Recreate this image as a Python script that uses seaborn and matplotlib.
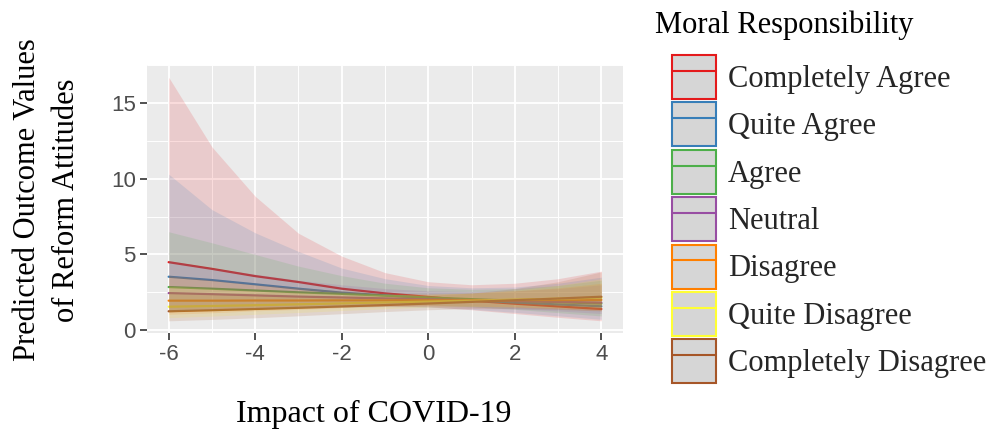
import numpy as np
import pandas as pd
import matplotlib
matplotlib.use("Agg")
import matplotlib.pyplot as plt
import seaborn as sns
from matplotlib.patches import Patch
from matplotlib.lines import Line2D
from matplotlib.ticker import MultipleLocator

# ---------------- data ----------------
groups = ["Completely Agree", "Quite Agree", "Agree", "Neutral",
          "Disagree", "Quite Disagree", "Completely Disagree"]
x_vals = [-6, -5, -4, -3, -2, -1, 0, 1, 2, 3, 4]

ca_fit = [4.49, 4.05, 3.57, 3.18, 2.74, 2.43, 2.20, 1.95, 1.75, 1.57, 1.40]
ca_hi = [16.7, 12.1, 8.84, 6.40, 4.89, 3.80, 3.20, 3.00, 3.10, 3.40, 3.90]
ca_lo = [1.21, 1.35, 1.45, 1.55, 1.60, 1.60, 1.55, 1.35, 1.10, 0.85, 0.62]

qa_fit = [3.53, 3.31, 3.03, 2.74, 2.48, 2.30, 2.12, 1.97, 1.83, 1.70, 1.58]
qa_hi = [10.3, 7.96, 6.43, 5.20, 4.10, 3.40, 2.95, 2.80, 2.85, 3.10, 3.50]
qa_lo = [1.21, 1.38, 1.43, 1.45, 1.50, 1.55, 1.52, 1.38, 1.18, 0.95, 0.72]

a_fit = [2.85, 2.74, 2.62, 2.50, 2.40, 2.28, 2.16, 2.05, 1.95, 1.85, 1.76]
a_hi = [6.50, 5.77, 5.00, 4.23, 3.60, 3.10, 2.80, 2.70, 2.75, 2.95, 3.30]
a_lo = [1.25, 1.30, 1.37, 1.48, 1.60, 1.68, 1.67, 1.55, 1.38, 1.16, 0.94]

n_fit = [2.45, 2.38, 2.30, 2.22, 2.16, 2.10, 2.04, 1.98, 1.92, 1.87, 1.82]
n_hi = [4.60, 4.10, 3.70, 3.30, 3.00, 2.75, 2.60, 2.55, 2.60, 2.75, 3.00]
n_lo = [1.30, 1.38, 1.43, 1.50, 1.55, 1.60, 1.60, 1.53, 1.42, 1.27, 1.10]

d_fit = [1.95, 1.95, 1.96, 1.96, 1.97, 1.97, 1.98, 1.98, 1.99, 1.99, 2.00]
d_hi = [3.60, 3.30, 3.00, 2.80, 2.60, 2.45, 2.40, 2.45, 2.60, 2.80, 3.10]
d_lo = [1.05, 1.15, 1.28, 1.37, 1.49, 1.58, 1.63, 1.60, 1.52, 1.42, 1.29]

qd_fit = [1.55, 1.60, 1.65, 1.71, 1.77, 1.83, 1.89, 1.95, 2.02, 2.08, 2.15]
qd_hi = [2.90, 2.75, 2.60, 2.50, 2.40, 2.35, 2.35, 2.45, 2.65, 2.95, 3.40]
qd_lo = [0.83, 0.93, 1.05, 1.17, 1.30, 1.42, 1.52, 1.55, 1.54, 1.47, 1.36]

cd_fit = [1.25, 1.32, 1.40, 1.48, 1.57, 1.66, 1.76, 1.87, 1.98, 2.09, 2.21]
cd_hi = [2.55, 2.45, 2.38, 2.30, 2.26, 2.25, 2.30, 2.45, 2.75, 3.20, 3.85]
cd_lo = [0.62, 0.71, 0.82, 0.95, 1.09, 1.23, 1.35, 1.43, 1.42, 1.37, 1.27]

fits = [ca_fit, qa_fit, a_fit, n_fit, d_fit, qd_fit, cd_fit]
his = [ca_hi, qa_hi, a_hi, n_hi, d_hi, qd_hi, cd_hi]
los = [ca_lo, qa_lo, a_lo, n_lo, d_lo, qd_lo, cd_lo]

x_ticks = [-6, -4, -2, 0, 2, 4]
y_ticks = [0, 5, 10, 15]

# ---------------- build long table ----------------
rows = []
for g, f, lo, hi in zip(groups, fits, los, his):
    for xv, fv, lv, hv in zip(x_vals, f, lo, hi):
        rows.append({"x": xv, "fit": fv, "lo": lv, "hi": hv, "group": g})
df = pd.DataFrame(rows)

colors = sns.color_palette("Set1", 7)

sns.set_theme(style="darkgrid")
plt.rcParams["font.family"] = ["Liberation Serif", "DejaVu Serif"]
plt.rcParams["axes.unicode_minus"] = False

W, H = 992, 430
fig = plt.figure(figsize=(W / 100, H / 100), dpi=100)
fig.patch.set_facecolor("white")
pl, pr, pt, pb = 147, 623, 65, 333
ax = fig.add_axes([pl / W, (H - pb) / H, (pr - pl) / W, (pb - pt) / H])
ax.set_facecolor("#EBEBEB")

sns.lineplot(data=df, x="x", y="fit", hue="group", hue_order=groups,
             palette=colors, ax=ax, legend=False, linewidth=1.6,
             estimator=None, zorder=2)
for g, c in zip(groups, colors):
    sub = df[df["group"] == g]
    ax.fill_between(sub["x"], sub["lo"], sub["hi"], color=c, alpha=0.15,
                    linewidth=0, zorder=3)

# ggplot-like expansion
xr = max(x_vals) - min(x_vals)
ax.set_xlim(min(x_vals) - 0.05 * xr, max(x_vals) + 0.05 * xr)
ymin, ymax = df["lo"].min(), df["hi"].max()
yr = ymax - ymin
ax.set_ylim(ymin - 0.05 * yr, ymax + 0.05 * yr)

ax.set_xticks(x_ticks)
ax.set_yticks(y_ticks)
ax.xaxis.set_minor_locator(MultipleLocator(1))
ax.yaxis.set_minor_locator(MultipleLocator(2.5))
ax.grid(which="major", color="white", linewidth=1.3)
ax.grid(which="minor", color="white", linewidth=0.7)
ax.tick_params(which="major", length=5, width=1.2, color="#333333",
               labelsize=16, labelcolor="#4D4D4D", pad=3,
               bottom=True, left=True)
ax.tick_params(which="minor", length=0)
for lbl in ax.get_xticklabels() + ax.get_yticklabels():
    lbl.set_fontfamily(["Liberation Sans", "DejaVu Sans"])
for s in ax.spines.values():
    s.set_visible(False)
ax.set_xlabel("")
ax.set_ylabel("")

# axis titles
fig.text(374 / W, 1 - 422 / H, "Impact of COVID-19", fontsize=23,
         ha="center", va="baseline", color="black")
fig.text(47 / W, 1 - 200 / H, "Predicted Outcome Values\nof Reform Attitudes",
         fontsize=22, ha="center", va="center", rotation=90,
         multialignment="center", linespacing=1.42, color="black")

# legend
fig.text(655 / W, 1 - 33 / H, "Moral Responsibility", fontsize=22,
         va="baseline", ha="left", color="black")
handles = [(Patch(facecolor="#D6D6D6", edgecolor=c, linewidth=1.5),
            Line2D([], [], color=c, linewidth=1.5)) for c in colors]
leg = fig.legend(handles, groups, loc="upper left",
                 bbox_to_anchor=(672 / W, 1 - 55 / H),
                 bbox_transform=fig.transFigure, frameon=False,
                 fontsize=22, handlelength=1.44, handleheight=1.84,
                 labelspacing=0.11, handletextpad=0.4, borderpad=0,
                 borderaxespad=0)

fig.savefig("out.png", dpi=100)
